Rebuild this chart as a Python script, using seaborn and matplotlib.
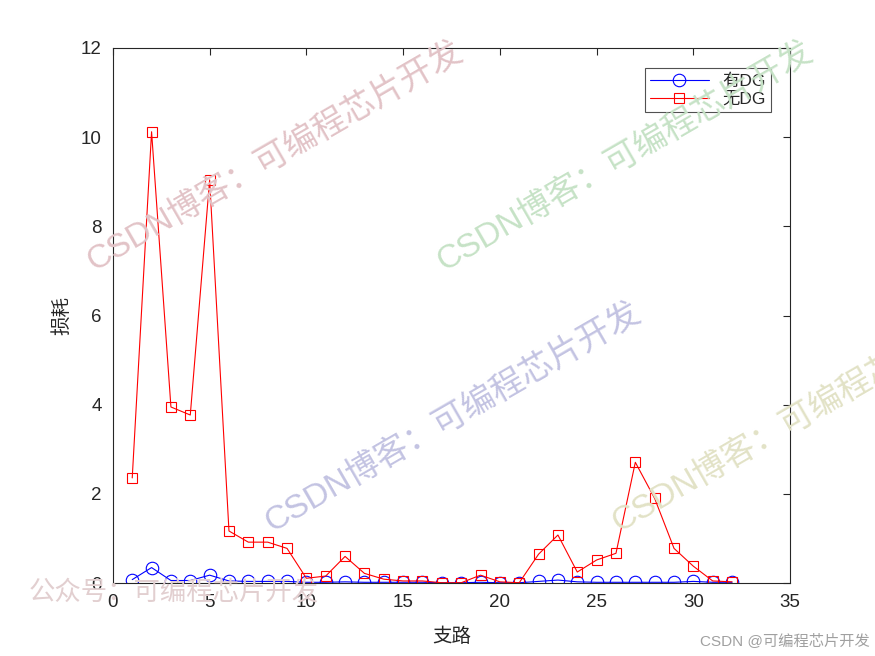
import numpy as np
import pandas as pd
import seaborn as sns
import matplotlib.pyplot as plt

# 支路编号与损耗数据
branch = list(range(1, 33))
loss_dg = [0.08, 0.35, 0.06, 0.06, 0.18, 0.05, 0.04, 0.04, 0.04, 0.02,
           0.02, 0.03, 0.02, 0.02, 0.02, 0.02, 0.01, 0.01, 0.02, 0.01,
           0.01, 0.04, 0.07, 0.03, 0.02, 0.02, 0.02, 0.02, 0.02, 0.04,
           0.02, 0.02]
loss_nodg = [2.36, 10.12, 3.95, 3.77, 9.04, 1.17, 0.92, 0.92, 0.78, 0.11,
             0.16, 0.60, 0.22, 0.09, 0.05, 0.05, 0.01, 0.01, 0.18, 0.03,
             0.01, 0.65, 1.08, 0.25, 0.52, 0.67, 2.71, 1.90, 0.78, 0.38,
             0.05, 0.03]
labels = ['有DG', '无DG']

df = pd.DataFrame({'支路': branch, '有DG': loss_dg, '无DG': loss_nodg})

sns.set_style("white")
plt.rcParams['font.family'] = ['Liberation Sans', 'Noto Sans CJK SC', 'DejaVu Sans']

fig = plt.figure(figsize=(8.75, 6.56), dpi=100)
ax = fig.add_axes([0.129, 0.111, 0.774, 0.816])

sns.lineplot(data=df, x='支路', y='有DG', ax=ax, color='#0000ff', lw=0.8,
             marker='o', markersize=9, markerfacecolor='none',
             markeredgecolor='#0000ff', markeredgewidth=0.8, label=labels[0])
sns.lineplot(data=df, x='支路', y='无DG', ax=ax, color='#ff0000', lw=0.8,
             marker='s', markersize=7, markerfacecolor='none',
             markeredgecolor='#ff0000', markeredgewidth=0.8, label=labels[1])

ax.set_xlim(0, 35)
ax.set_ylim(0, 12)
ax.set_xticks(range(0, 36, 5))
ax.set_yticks(range(0, 13, 2))
ax.set_xlabel('支路', fontsize=14, labelpad=12)
ax.set_ylabel('损耗', fontsize=14, labelpad=7)
ax.tick_params(direction='in', top=True, right=True, length=5, width=0.8,
               labelsize=13.5, colors='#262626', pad=8)
for s in ax.spines.values():
    s.set_linewidth(0.8)
    s.set_color('#262626')

leg = ax.legend(loc='upper right', fontsize=12.5, frameon=True, fancybox=False,
                edgecolor='#262626', borderpad=0.3, handlelength=3.4,
                handletextpad=0.8, labelspacing=0.15,
                bbox_to_anchor=(0.985, 0.978))
leg.get_frame().set_linewidth(0.8)

# 水印文字
wm = 'CSDN博客：可编程芯片开发'
fig.text(0.314, 0.761, wm, rotation=30, fontsize=24, color='#e2c3c7',
         ha='center', va='center', rotation_mode='anchor', zorder=0)
fig.text(0.714, 0.761, wm, rotation=30, fontsize=24, color='#c6e2c6',
         ha='center', va='center', rotation_mode='anchor', zorder=0)
fig.text(0.517, 0.364, wm, rotation=30, fontsize=24, color='#c3c3e2',
         ha='center', va='center', rotation_mode='anchor', zorder=0)
fig.text(0.914, 0.363, wm, rotation=30, fontsize=24, color='#e2e2c6',
         ha='center', va='center', rotation_mode='anchor', zorder=0)
fig.text(0.199, 0.098, '公众号：可编程芯片开发', fontsize=19, color='#e2cfd0',
         ha='center', va='center', zorder=0)
fig.text(0.994, 0.024, 'CSDN @可编程芯片开发', fontsize=11, color='#a0a0a0',
         ha='right', va='center')

fig.savefig('out.png', dpi=100)
